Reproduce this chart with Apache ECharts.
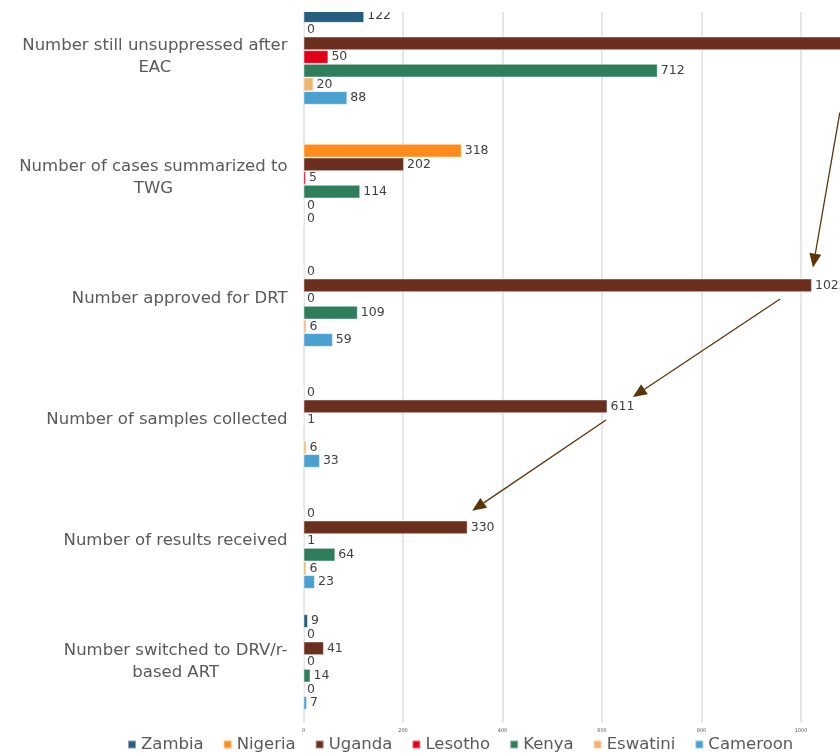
<!DOCTYPE html>
<html>
<head>
<meta charset="utf-8">
<script src="https://cdn.jsdelivr.net/npm/echarts@6/dist/echarts.min.js"></script>
<style>
  html, body { margin: 0; padding: 0; background: #fff; overflow: hidden; }
  #wrap { position: absolute; left: 0; top: 12px; width: 840px; height: 742px; overflow: hidden; }
  #chart { position: absolute; left: 0; top: -52px; width: 920px; height: 794px; }
</style>
</head>
<body>
<div id="wrap"><div id="chart"></div></div>
<script>
// categories, top to bottom
const categories = [
  'Number still unsuppressed after\nEAC',
  'Number of cases summarized to\nTWG',
  'Number approved for DRT',
  'Number of samples collected',
  'Number of results received',
  'Number switched to DRV/r-\nbased ART'
]

const countries = ['Zambia', 'Nigeria', 'Uganda', 'Lesotho', 'Kenya', 'Eswatini', 'Cameroon']
const colors = ['#255e7e', '#ff8c1a', '#6b2f20', '#e3001b', '#2e7d5b', '#f0b46c', '#4aa0cf']

// values per country (null = no bar)
const zambia   = [122, null, null, null, null, 9]
const nigeria  = [0, 318, 0, 0, 0, 0]
const uganda   = [1110, 202, 1022, 611, 330, 41]
const lesotho  = [50, 5, 0, 1, 1, 0]
const kenya    = [712, 114, 109, null, 64, 14]
const eswatini = [20, 0, 6, 6, 6, 0]
const cameroon = [88, 0, 59, 33, 23, 7]
const seriesValues = [zambia, nigeria, uganda, lesotho, kenya, eswatini, cameroon]

// cascade arrows: [fromValue, fromCategory, fromOffset, toValue, toCategory, toOffset]
const arrows = [
  [1078, 0, 0.46, 1024, 2, -0.26],
  [958, 2, 0.0, 662, 3, -0.19],
  [608, 3, 0.0, 339, 4, -0.25]
]

const chart = echarts.init(document.getElementById('chart'))

const series = countries.map((name, i) => ({
  name: name,
  type: 'bar',
  data: seriesValues[i],
  barGap: '0%',
  barCategoryGap: '21%',
  itemStyle: {
    color: colors[i],
    borderColor: 'rgba(255,255,255,0.45)',
    borderWidth: 1
  },
  label: {
    show: true,
    position: 'right',
    distance: 3,
    color: '#404040',
    fontSize: 12.5,
    fontFamily: 'DejaVu Sans'
  }
}))

chart.setOption({
  animation: false,
  textStyle: { fontFamily: 'DejaVu Sans' },
  grid: {
    left: 303.5,
    top: 36.5,
    bottom: 31.5,
    width: 597,
    containLabel: false
  },
  legend: {
    data: countries,
    left: 122,
    top: 771,
    icon: 'rect',
    itemWidth: 8,
    itemHeight: 8,
    itemGap: 19,
    textStyle: { color: '#595959', fontSize: 16.5, fontFamily: 'DejaVu Sans' }
  },
  xAxis: {
    type: 'value',
    min: 0,
    max: 1200,
    interval: 200,
    axisLine: { show: false },
    axisTick: { show: false },
    axisLabel: { color: '#595959', fontSize: 5, margin: 6, formatter: v => String(v) },
    splitLine: { lineStyle: { color: '#e6e6e6', width: 2 } }
  },
  yAxis: {
    type: 'category',
    data: categories,
    inverse: true,
    axisLine: { show: false },
    axisTick: { show: false },
    axisLabel: {
      margin: 16,
      color: '#595959',
      fontSize: 16.5,
      lineHeight: 22,
      formatter: v => v.split('\n').map(s => '{a|' + s + '}').join('\n'),
      rich: { a: { align: 'center', color: '#595959', fontSize: 16.5, lineHeight: 22, fontFamily: 'DejaVu Sans' } }
    }
  },
  series: series
})

// draw the cascade arrows, anchored to the axes
const band = chart.convertToPixel({ yAxisIndex: 0 }, 1) - chart.convertToPixel({ yAxisIndex: 0 }, 0)
const arrowColor = '#5c3408'
const graphics = []
arrows.forEach(a => {
  const x1 = chart.convertToPixel({ xAxisIndex: 0 }, a[0])
  const y1 = chart.convertToPixel({ yAxisIndex: 0 }, a[1]) + a[2] * band
  const x2 = chart.convertToPixel({ xAxisIndex: 0 }, a[3])
  const y2 = chart.convertToPixel({ yAxisIndex: 0 }, a[4]) + a[5] * band
  const ang = Math.atan2(y2 - y1, x2 - x1)
  const len = 14, half = 6
  const bx = x2 - len * Math.cos(ang), by = y2 - len * Math.sin(ang)
  const px = -Math.sin(ang) * half, py = Math.cos(ang) * half
  graphics.push({
    type: 'line',
    shape: { x1: x1, y1: y1, x2: bx, y2: by },
    style: { stroke: arrowColor, lineWidth: 1.3 }
  })
  graphics.push({
    type: 'polygon',
    shape: { points: [[x2, y2], [bx + px, by + py], [bx - px, by - py]] },
    style: { fill: arrowColor }
  })
})
chart.setOption({ graphic: graphics })
</script>
</body>
</html>
